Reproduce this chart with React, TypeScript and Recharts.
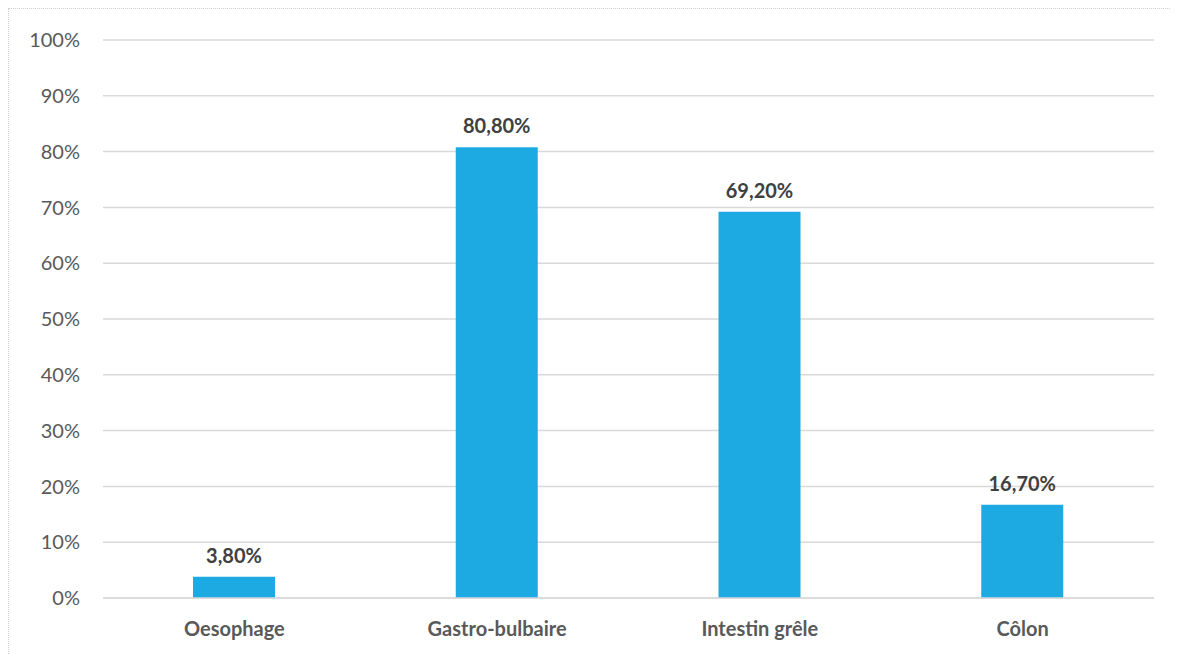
import { BarChart, Bar, XAxis, YAxis, CartesianGrid, LabelList } from "recharts";

const categories = ["Oesophage", "Gastro-bulbaire", "Intestin grêle", "Côlon"];
const percentages = [3.8, 80.8, 69.2, 16.7];
const yTicks = [0, 10, 20, 30, 40, 50, 60, 70, 80, 90, 100];

const data = categories.map((name, i) => ({ name, value: percentages[i] }));

const fontFamily = "Lato, 'Open Sans', sans-serif";

const formatLabel = (v: unknown) =>
  `${Number(v).toFixed(2).replace(".", ",")}%`;

export default function App() {
  return (
    <div
      style={{
        width: 1170,
        height: 646,
        borderTop: "1px dotted #cfcfcf",
        borderLeft: "1px dotted #cfcfcf",
        boxSizing: "border-box",
        fontFamily,
        background: "#fff",
      }}
    >
      <BarChart
        width={1169}
        height={645}
        data={data}
        margin={{ top: 31, right: 24, left: 0, bottom: 0 }}
        barSize={82}
      >
        <CartesianGrid vertical={false} stroke="#d9d9d9" strokeWidth={1.5} />
        <XAxis
          dataKey="name"
          height={56}
          tickLine={false}
          axisLine={{ stroke: "#d9d9d9", strokeWidth: 1.5 }}
          tickMargin={18}
          tick={{ fill: "#595959", fontSize: 20, fontWeight: 700, fontFamily }}
        />
        <YAxis
          width={94}
          domain={[0, 100]}
          ticks={yTicks}
          tickFormatter={(v) => `${v}%`}
          tickLine={false}
          axisLine={false}
          tick={{ fill: "#595959", fontSize: 20, fontFamily, dx: -15 }}
        />
        <Bar dataKey="value" fill="#1DAAE2" isAnimationActive={false}>
          <LabelList
            dataKey="value"
            position="top"
            offset={14}
            formatter={formatLabel}
            style={{ fill: "#404040", fontSize: 20, fontWeight: 700, fontFamily }}
          />
        </Bar>
      </BarChart>
    </div>
  );
}
